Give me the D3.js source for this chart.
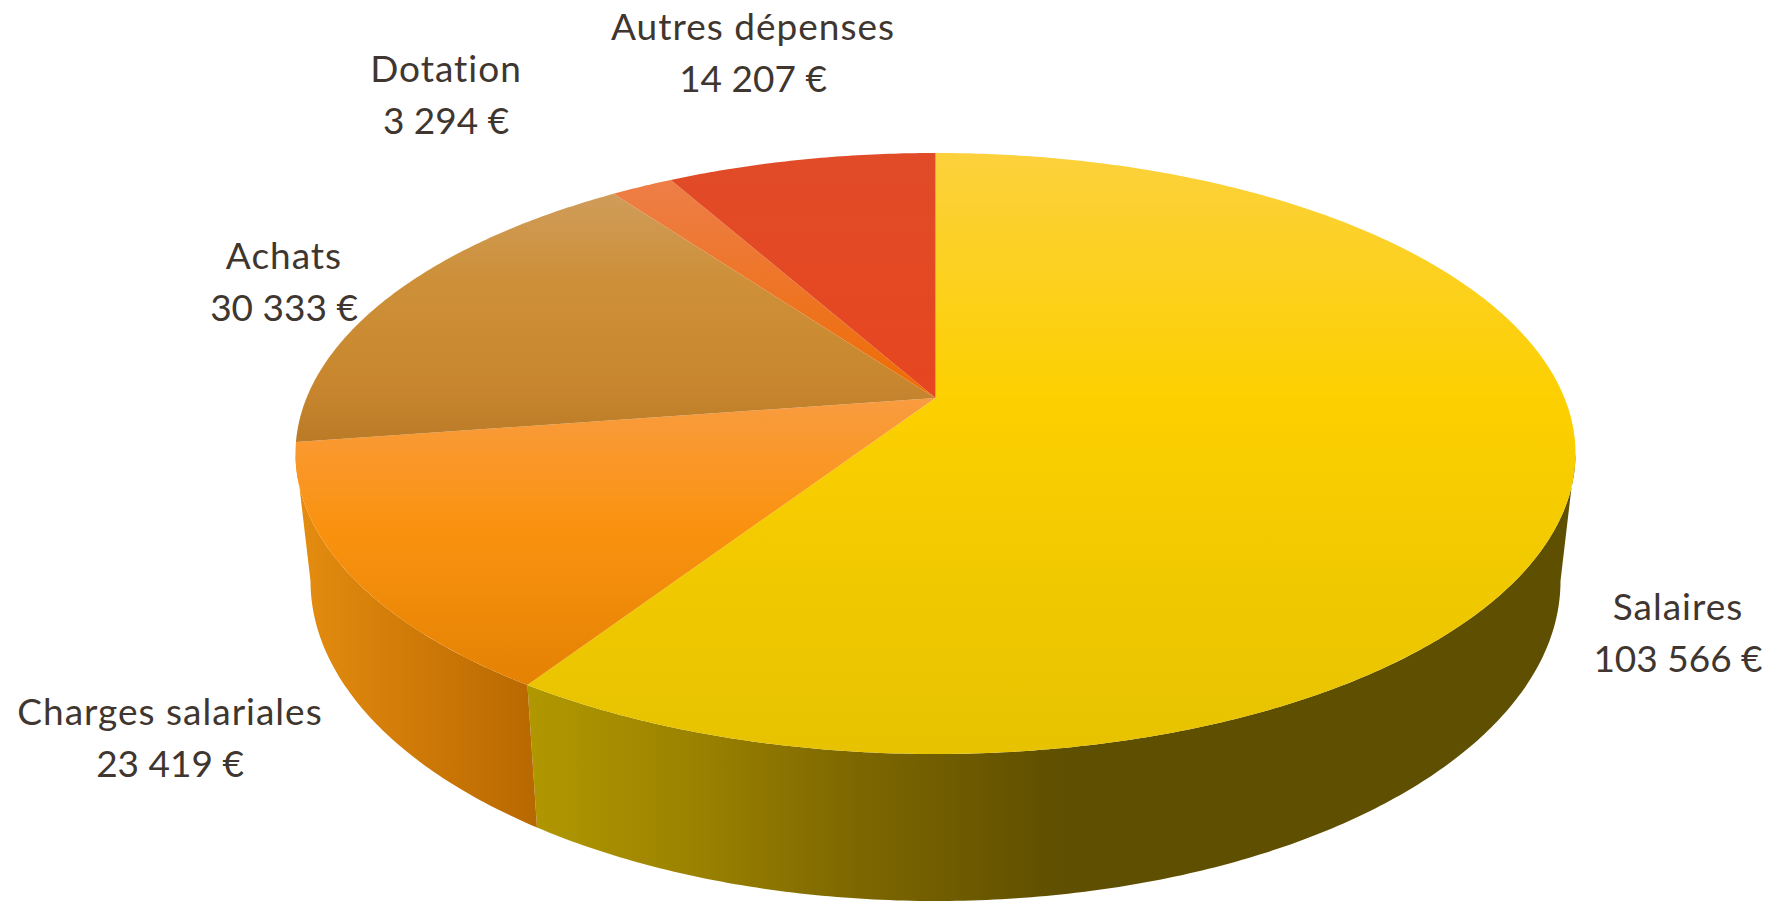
<!DOCTYPE html>
<html>
<head>
<meta charset="utf-8">
<script src="https://cdn.jsdelivr.net/npm/d3@7"></script>
<style>
  body { margin: 0; background: #fff; }
  text { font-family: Lato, sans-serif; fill: #3f3630; }
</style>
</head>
<body>
<div id="chart"></div>
<script>
// Chart data
var categories = ["Salaires", "Charges salariales", "Achats", "Dotation", "Autres dépenses"];
var values = [103566, 23419, 30333, 3294, 14207];

// Top face colours, from the rim at the back to the rim at the front
var topStops = [
  [[0, "#fcd13c"], [0.41, "#fcd000"], [1, "#e6c200"]],
  [[0, "#f99c40"], [0.45, "#fa920f"], [1, "#e58203"]],
  [[0, "#cf9c5a"], [0.35, "#cd9038"], [0.75, "#c8872f"], [1, "#bb7a26"]],
  [[0, "#ed7e47"], [0.5, "#ee7526"], [1, "#ef6c00"]],
  [[0, "#e14b28"], [1, "#e64620"]]
];
// Side wall colours, left to right
var wallStops = [
  [[0, "#b19800"], [0.3, "#9c8300"], [0.62, "#7d6700"], [1, "#5f4f00"]],
  [[0, "#e58d10"], [0.5, "#cf7a08"], [1, "#b76800"]]
];

// Label anchors, centre x and first baseline
var labelX = [1678, 170, 284, 446, 753];
var labelY = [620, 725, 269, 82, 40];

var svgWidth = 1773;
var svgHeight = 902;

// Perspective of the pie: each disc is an ellipse seen through the same tilt
var tilt = 0.1847;
var centerX = 935.5;
var topDisc = { rx: 640, ry: 300.5, cy: 453.5 };
var bottomDisc = { rx: 625, ry: 320, cy: 581 };

// Only the front of the wall is seen, between the two widest points of the rim
var wallFrom = Math.acos(-tilt);
var wallTo = 2 * Math.PI - wallFrom;

function project(disc, angle) {
  var u = Math.sin(angle);
  var v = -Math.cos(angle);
  var q = 1 - tilt * v;
  var f = 1 - tilt * tilt;
  return [
    centerX + disc.rx * Math.sqrt(f) * u / q,
    disc.cy - disc.ry * tilt + disc.ry * f * v / q
  ];
}

function rim(disc, a0, a1) {
  var n = Math.max(2, Math.ceil((a1 - a0) / 0.01));
  return d3.range(n + 1).map(function(i) {
    return project(disc, a0 + (a1 - a0) * i / n);
  });
}

var svg = d3.select("#chart")
  .append("svg")
  .attr("width", svgWidth)
  .attr("height", svgHeight)
  .style("display", "block");

var defs = svg.append("defs");
var line = d3.line();

var arcs = d3.pie().sort(null).value(function(d) { return d; })(values);

function addGradient(id, stops, x1, y1, x2, y2) {
  var g = defs.append("linearGradient")
    .attr("id", id)
    .attr("gradientUnits", "userSpaceOnUse")
    .attr("x1", x1).attr("y1", y1)
    .attr("x2", x2).attr("y2", y2);
  g.selectAll("stop")
    .data(stops)
    .enter()
    .append("stop")
    .attr("offset", function(d) { return d[0]; })
    .attr("stop-color", function(d) { return d[1]; });
}

// Walls first, the top faces then cover their upper edge
var wallGroup = svg.append("g");
arcs.forEach(function(d, i) {
  var a0 = Math.max(d.startAngle, wallFrom);
  var a1 = Math.min(d.endAngle, wallTo);
  if (a1 <= a0) return;
  var pts = rim(topDisc, a0, a1).concat(rim(bottomDisc, a0, a1).reverse());
  var xs = d3.extent(pts, function(p) { return p[0]; });
  // the Salaires wall is dark from the middle of the pie onwards
  if (i === 0) addGradient("wall" + i, wallStops[i], xs[0], 0, 1060, 0);
  else addGradient("wall" + i, wallStops[i], xs[0], 0, xs[1], 0);
  wallGroup.append("path")
    .attr("d", line(pts) + "Z")
    .attr("fill", "url(#wall" + i + ")");
});

// Top faces
var topGroup = svg.append("g");
arcs.forEach(function(d, i) {
  var pts = rim(topDisc, d.startAngle, d.endAngle);
  pts.push([centerX, topDisc.cy - topDisc.ry * tilt]);
  var ys = d3.extent(pts, function(p) { return p[1]; });
  addGradient("face" + i, topStops[i], 0, ys[0], 0, ys[1]);
  topGroup.append("path")
    .attr("d", line(pts) + "Z")
    .attr("fill", "url(#face" + i + ")");
});

// Labels
var money = d3.formatLocale({ thousands: " ", grouping: [3], decimal: ",", currency: ["", " €"] }).format("$,d");
var labelGroup = svg.append("g");
categories.forEach(function(name, i) {
  var label = labelGroup.append("text")
    .attr("text-anchor", "middle")
    .attr("font-size", 37);
  label.append("tspan")
    .attr("x", labelX[i])
    .attr("y", labelY[i])
    .attr("letter-spacing", 1)
    .text(name);
  label.append("tspan")
    .attr("x", labelX[i])
    .attr("y", labelY[i] + 52)
    .text(money(values[i]));
});
</script>
</body>
</html>
